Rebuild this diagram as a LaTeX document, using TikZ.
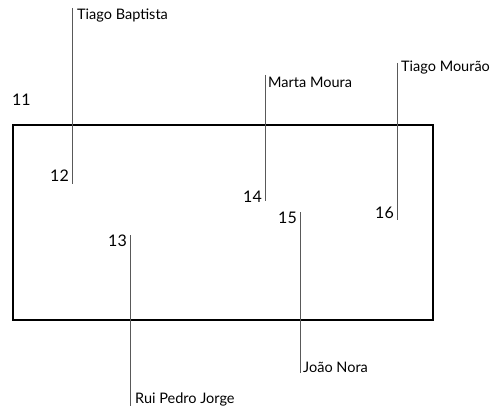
\documentclass[tikz,border=0pt]{standalone}
\usepackage{fontspec}
\setmainfont{Lato}
\begin{document}
\begin{tikzpicture}[x=1pt,y=-1pt,
  lead/.style={draw=black!65,line width=0.9pt},
  nm/.style={anchor=west,inner sep=0pt,font=\fontsize{14.5}{16}\selectfont},
  num/.style={anchor=east,inner sep=0pt,font=\fontsize{16}{18}\selectfont}]
\useasboundingbox (0,0) rectangle (498,409);
\draw[line width=1.6pt] (13,125) rectangle (433,320);
\node[anchor=west,inner sep=0pt,font=\fontsize{16}{18}\selectfont] (n11) at (12,100) {11};
% 12 - Tiago Baptista
\coordinate (t12) at (72,8);
\coordinate (b12) at (72,184);
\draw[lead] (t12) -- (b12);
\node[nm] (tb) at (77,16) {Tiago Baptista};
\node[num] (n12) at (69,176) {12};
% 14 - Marta Moura
\coordinate (t14) at (265,75);
\coordinate (b14) at (265,201);
\draw[lead] (t14) -- (b14);
\node[nm] (mm) at (268,82) {Marta Moura};
\node[num] (n14) at (262,197) {14};
% 16 - Tiago Mourao
\coordinate (t16) at (397,63);
\coordinate (b16) at (397,220);
\draw[lead] (t16) -- (b16);
\node[nm] (tm) at (401,68) {Tiago Mourão};
\node[num] (n16) at (394,213) {16};
% 13 - Rui Pedro Jorge
\coordinate (t13) at (130,235);
\coordinate (b13) at (130,406);
\draw[lead] (t13) -- (b13);
\node[nm] (rpj) at (135,399) {Rui Pedro Jorge};
\node[num] (n13) at (127,241) {13};
% 15 - Joao Nora
\coordinate (t15) at (300,212);
\coordinate (b15) at (300,373);
\draw[lead] (t15) -- (b15);
\node[nm] (jn) at (303,367) {João Nora};
\node[num] (n15) at (297,218) {15};
\end{tikzpicture}
\end{document}
